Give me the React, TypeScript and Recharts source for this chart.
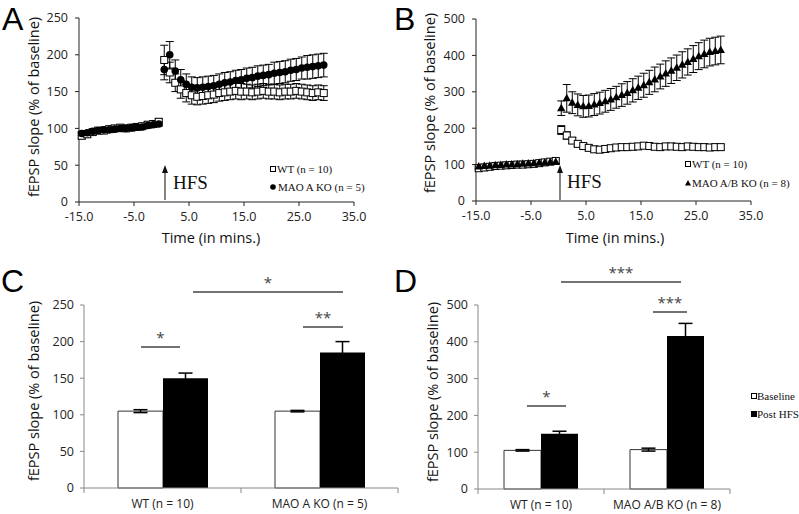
import React from 'react'
import { Bar, BarChart, ErrorBar, Scatter, ScatterChart, XAxis, YAxis } from 'recharts'

// time points (min) relative to HFS
const baseTimes = [-14.5, -13.5, -12.5, -11.5, -10.5, -9.5, -8.5, -7.5, -6.5, -5.5, -4.5, -3.5, -2.5, -1.5, -0.5]
const postTimes = [
    0.5, 1.5, 2.5, 3.5, 4.5, 5.5, 6.5, 7.5, 8.5, 9.5, 10.5, 11.5, 12.5, 13.5, 14.5,
    15.5, 16.5, 17.5, 18.5, 19.5, 20.5, 21.5, 22.5, 23.5, 24.5, 25.5, 26.5, 27.5, 28.5, 29.5,
]
const timeTicks = [-15, -5, 5, 15, 25, 35]

// panel A
const wtABase = [90, 92, 95, 97, 97, 99, 100, 101, 100, 101, 102, 103, 105, 106, 109]
const wtABaseErr = [4, 4, 3, 4, 3, 3, 4, 3, 3, 3, 4, 3, 4, 3, 4]
const wtAPost = [193, 176, 162, 153, 148, 145, 143, 144, 145, 146, 148, 149, 150, 151, 150, 150, 149, 150, 151, 150, 150, 149, 150, 150, 151, 150, 149, 148, 149, 148]
const wtAPostErr = [20, 14, 12, 12, 12, 12, 11, 11, 11, 11, 11, 11, 11, 11, 11, 10, 10, 10, 10, 10, 10, 10, 10, 10, 10, 10, 10, 10, 10, 10]
const koABase = [93, 94, 96, 97, 98, 98, 99, 100, 100, 101, 102, 102, 104, 105, 106]
const koABaseErr = [3, 3, 3, 3, 3, 3, 3, 3, 3, 3, 3, 3, 3, 3, 3]
const koAPost = [180, 200, 178, 166, 160, 156, 155, 156, 157, 158, 160, 162, 163, 165, 166, 168, 169, 171, 172, 173, 175, 176, 177, 179, 180, 182, 183, 184, 185, 186]
const koAPostErr = [14, 18, 15, 14, 14, 14, 14, 14, 14, 14, 14, 14, 14, 14, 14, 14, 14, 14, 14, 14, 15, 15, 15, 15, 15, 15, 16, 16, 16, 16]

// panel B
const wtBBase = [90, 92, 94, 96, 97, 98, 99, 100, 100, 101, 102, 104, 106, 108, 110]
const wtBBaseErr = [5, 5, 5, 5, 5, 5, 5, 5, 5, 5, 5, 5, 5, 5, 6]
const wtBPost = [195, 180, 166, 157, 151, 146, 142, 141, 143, 145, 147, 148, 148, 149, 150, 152, 151, 149, 148, 150, 150, 149, 148, 150, 149, 148, 148, 147, 148, 148]
const wtBPostErr = [12, 10, 8, 7, 6, 6, 6, 6, 6, 6, 6, 6, 6, 6, 6, 6, 6, 6, 6, 6, 6, 6, 6, 6, 6, 6, 6, 6, 6, 6]
const koBBase = [95, 96, 97, 98, 99, 100, 100, 101, 102, 103, 104, 105, 106, 107, 108]
const koBBaseErr = [5, 5, 5, 5, 5, 5, 5, 5, 5, 5, 5, 5, 5, 5, 5]
const koBPost = [255, 282, 270, 264, 260, 261, 265, 269, 274, 279, 285, 291, 297, 304, 311, 318, 326, 334, 342, 350, 358, 366, 374, 382, 390, 398, 404, 409, 412, 415]
const koBPostErr = [20, 38, 30, 30, 30, 30, 30, 30, 30, 30, 30, 31, 31, 32, 32, 33, 33, 34, 34, 35, 35, 35, 36, 36, 37, 37, 38, 38, 38, 38]

// panel C / D bar summaries
const groupsC = ['WT (n = 10)', 'MAO A KO (n = 5)']
const baselineC = [105, 105]
const baselineCErr = [2, 1]
const postC = [150, 185]
const postCErr = [7, 15]

const groupsD = ['WT (n = 10)', 'MAO A/B KO (n = 8)']
const baselineD = [105, 107]
const baselineDErr = [2, 4]
const postD = [150, 416]
const postDErr = [7, 34]

const ticks250 = [0, 50, 100, 150, 200, 250]
const ticks500 = [0, 50, 100, 150, 200, 250, 300, 350, 400, 450, 500]

const allTimes = [...baseTimes, ...postTimes]
const toPoints = (vals: number[], errs: number[]) =>
    allTimes.map((t, i) => ({ t, v: vals[i], e: errs[i] }))

const wtA = toPoints([...wtABase, ...wtAPost], [...wtABaseErr, ...wtAPostErr])
const koA = toPoints([...koABase, ...koAPost], [...koABaseErr, ...koAPostErr])
const wtB = toPoints([...wtBBase, ...wtBPost], [...wtBBaseErr, ...wtBPostErr])
const koB = toPoints([...koBBase, ...koBPost], [...koBBaseErr, ...koBPostErr])

const barRows = (groups: string[], b: number[], be: number[], p: number[], pe: number[]) =>
    groups.map((name, i) => ({ name, base: b[i], baseErr: be[i], post: p[i], postErr: pe[i] }))

const dataC = barRows(groupsC, baselineC, baselineCErr, postC, postCErr)
const dataD = barRows(groupsD, baselineD, baselineDErr, postD, postDErr)

const SANS = '"Open Sans", sans-serif'
const SERIF = '"Liberation Serif", serif'

const Square = (p: any) => (
    <rect x={p.cx - 3.5} y={p.cy - 3.5} width={7} height={7} fill="#fff" stroke="#000" strokeWidth={1} />
)
const Dot = (p: any) => <circle cx={p.cx} cy={p.cy} r={3.8} fill="#000" />
const Tri = (p: any) => (
    <polygon points={`${p.cx},${p.cy - 4.5} ${p.cx - 4.2},${p.cy + 3} ${p.cx + 4.2},${p.cy + 3}`} fill="#000" />
)

const tickStyle = { fontSize: 12.5, fill: '#222', fontFamily: SANS }

const TimeChart = ({ left, width, margin, yMax, yTicks, wt, ko, koShape }: any) => (
    <div style={{ position: 'absolute', left, top: 0 }}>
        <ScatterChart width={width} height={260} margin={margin}>
            <XAxis
                type="number"
                dataKey="t"
                domain={[-15, 35]}
                ticks={timeTicks}
                tickFormatter={(v: number) => v.toFixed(1)}
                height={20}
                tickSize={4}
                tickMargin={6}
                tick={tickStyle}
                stroke="#222"
            />
            <YAxis
                type="number"
                dataKey="v"
                domain={[0, yMax]}
                ticks={yTicks}
                width={45}
                tickSize={4}
                tickMargin={7}
                tick={tickStyle}
                stroke="#222"
            />
            <Scatter data={wt} shape={Square} isAnimationActive={false}>
                <ErrorBar dataKey="e" direction="y" width={4} stroke="#000" strokeWidth={1} isAnimationActive={false} />
            </Scatter>
            <Scatter data={ko} shape={koShape} isAnimationActive={false}>
                <ErrorBar dataKey="e" direction="y" width={4} stroke="#000" strokeWidth={1} isAnimationActive={false} />
            </Scatter>
        </ScatterChart>
    </div>
)

const CatTick = (props: any) => {
    const { x, y, payload, index, band } = props
    return (
        <g>
            {index === 0 && <line x1={x - band / 2} x2={x - band / 2} y1={y} y2={y + 5} stroke="#888" />}
            <line x1={x + band / 2} x2={x + band / 2} y1={y} y2={y + 5} stroke="#888" />
            <text x={x} y={y + 20} textAnchor="middle" fontSize={12} fill="#222" fontFamily={SANS}>
                {payload.value}
            </text>
        </g>
    )
}

const SummaryChart = ({ left, width, margin, data, yMax, yTicks, barSize, band }: any) => (
    <div style={{ position: 'absolute', left, top: 260 }}>
        <BarChart width={width} height={254} data={data} margin={margin} barGap={0} barSize={barSize}>
            <XAxis
                dataKey="name"
                height={20}
                tickLine={false}
                tickSize={0}
                tickMargin={0}
                stroke="#888"
                interval={0}
                tick={(p: any) => <CatTick {...p} band={band} />}
            />
            <YAxis
                type="number"
                domain={[0, yMax]}
                ticks={yTicks}
                width={45}
                tickSize={4}
                tickMargin={6}
                tick={tickStyle}
                stroke="#888"
            />
            <Bar dataKey="base" fill="#fff" stroke="#333" strokeWidth={1} isAnimationActive={false}>
                <ErrorBar dataKey="baseErr" direction="y" width={7} stroke="#000" isAnimationActive={false} />
            </Bar>
            <Bar dataKey="post" fill="#000" isAnimationActive={false}>
                <ErrorBar dataKey="postErr" direction="y" width={7} stroke="#000" isAnimationActive={false} />
            </Bar>
        </BarChart>
    </div>
)

const YTitle = ({ x, y }: { x: number; y: number }) => (
    <text transform={`translate(${x},${y}) rotate(-90)`} textAnchor="middle" dominantBaseline="central"
        fontSize={14.5} fontFamily={SANS} fill="#111">
        fEPSP slope (% of baseline)
    </text>
)

const Arrow = ({ x }: { x: number }) => (
    <g>
        <line x1={x} x2={x} y1={200} y2={172} stroke="#333" strokeWidth={1.2} />
        <polygon points={`${x},${165} ${x - 3},${173} ${x + 3},${173}`} fill="#111" />
    </g>
)

const Sig = ({ x1, x2, y, label }: any) => (
    <g>
        <line x1={x1} x2={x2} y1={y} y2={y} stroke="#444" strokeWidth={1.3} />
        <text x={(x1 + x2) / 2} y={y - 4} textAnchor="middle" fontSize={15} fontFamily={SANS} fill="#444">
            {label}
        </text>
    </g>
)

export default function App() {
    return (
        <div style={{ position: 'absolute', left: 0, top: 0, width: 799, height: 514, background: '#fff', fontFamily: SANS }}>
            <TimeChart left={0} width={400} margin={{ top: 18, right: 46, bottom: 38, left: 34 }}
                yMax={250} yTicks={ticks250} wt={wtA} ko={koA} koShape={Dot} />
            <TimeChart left={400} width={399} margin={{ top: 19, right: 48, bottom: 39, left: 31 }}
                yMax={500} yTicks={ticks500} wt={wtB} ko={koB} koShape={Tri} />
            <SummaryChart left={0} width={400} margin={{ top: 45, right: 2, bottom: 6, left: 39 }}
                data={dataC} yMax={250} yTicks={ticks250} barSize={45} band={157} />
            <SummaryChart left={400} width={399} margin={{ top: 45, right: 69, bottom: 5, left: 33 }}
                data={dataD} yMax={500} yTicks={ticks500} barSize={37} band={126} />

            <svg width={799} height={514} style={{ position: 'absolute', left: 0, top: 0, pointerEvents: 'none' }}>
                <g fontFamily='"Liberation Sans", Arial, sans-serif' fontSize={32} fill="#000">
                    <text x={2} y={30}>A</text>
                    <text x={394} y={30}>B</text>
                    <text x={1} y={292}>C</text>
                    <text x={394} y={292}>D</text>
                </g>

                <YTitle x={33} y={107} />
                <YTitle x={429} y={103} />
                <YTitle x={33} y={391} />
                <YTitle x={432} y={392} />

                <text x={211} y={243} textAnchor="middle" fontSize={14.5} fontFamily={SANS} fill="#111">Time (in mins.)</text>
                <text x={615} y={243} textAnchor="middle" fontSize={14.5} fontFamily={SANS} fill="#111">Time (in mins.)</text>

                <Arrow x={165} />
                <text x={173} y={189} fontSize={19} fontFamily={SERIF} fill="#111">HFS</text>
                <Arrow x={560} />
                <text x={567} y={188} fontSize={19} fontFamily={SERIF} fill="#111">HFS</text>

                <g fontFamily={SERIF} fontSize={11} fill="#111">
                    <rect x={270.5} y={166.5} width={5} height={5} fill="#fff" stroke="#000" />
                    <text x={277} y={173}>WT (n = 10)</text>
                    <circle cx={273} cy={187} r={2.8} fill="#000" />
                    <text x={278} y={191}>MAO A KO (n = 5)</text>

                    <rect x={685.5} y={161.5} width={5} height={5} fill="#fff" stroke="#000" />
                    <text x={692} y={168}>WT (n = 10)</text>
                    <polygon points="688,180 685,185.5 691,185.5" fill="#000" />
                    <text x={692} y={187}>MAO A/B KO (n = 8)</text>

                    <rect x={751.5} y={393.5} width={5} height={5} fill="#fff" stroke="#000" />
                    <text x={757} y={400}>Baseline</text>
                    <rect x={751.5} y={411.5} width={5} height={5} fill="#000" stroke="#000" />
                    <text x={757} y={418}>Post HFS</text>
                </g>

                <Sig x1={141} x2={180} y={347} label="*" />
                <Sig x1={303} x2={343} y={327} label="**" />
                <Sig x1={193} x2={343} y={292} label="*" />
                <Sig x1={527} x2={566} y={406} label="*" />
                <Sig x1={653} x2={687} y={312} label="***" />
                <Sig x1={561} x2={681} y={282} label="***" />
            </svg>
        </div>
    )
}
